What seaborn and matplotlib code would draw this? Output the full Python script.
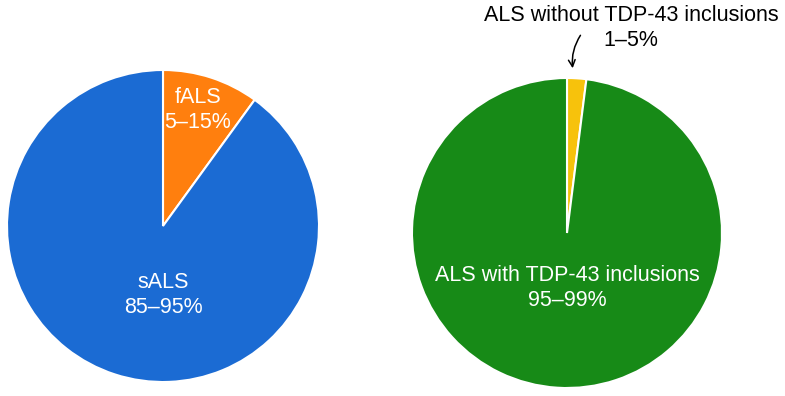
import numpy as np
import pandas as pd
import seaborn as sns
import matplotlib.pyplot as plt

# данные: семейный / спорадический БАС
als_types = ['fALS', 'sALS']
als_type_share = [10, 90]
als_type_ranges = ['5–15%', '85–95%']

# данные: включения TDP-43
tdp_groups = ['ALS without TDP-43 inclusions', 'ALS with TDP-43 inclusions']
tdp_share = [2, 98]
tdp_ranges = ['1–5%', '95–99%']

colors_left = ['#ff7f0e', '#1b6bd3']
colors_right = ['#f7c20c', '#178a17']

sns.set_theme(style='white')
plt.rcParams['font.family'] = ['Liberation Sans', 'DejaVu Sans']

W, H = 785, 396
fig = plt.figure(figsize=(W / 100, H / 100), dpi=100)
ax = fig.add_axes([0, 0, 1, 1])

wp = dict(edgecolor='white', linewidth=1.5)
ax.pie(als_type_share, colors=colors_left, startangle=90, counterclock=False,
       center=(163, H - 226), radius=156, wedgeprops=wp)
ax.pie(tdp_share, colors=colors_right, startangle=90, counterclock=False,
       center=(567, H - 233), radius=155, wedgeprops=wp)

ax.set_xlim(0, W)
ax.set_ylim(0, H)
ax.set_aspect('equal')
ax.axis('off')

fs = 15.5
txt = dict(color='white', fontsize=fs, ha='center', va='center', linespacing=1.2)
ax.text(198, H - 110, f'{als_types[0]}\n{als_type_ranges[0]}', **txt)
ax.text(163, H - 295, f'{als_types[1]}\n{als_type_ranges[1]}', **txt)
ax.text(567, H - 288, f'{tdp_groups[1]}\n{tdp_ranges[1]}', **txt)

ax.text(631, H - 28, f'{tdp_groups[0]}\n{tdp_ranges[0]}', color='black', fontsize=fs,
        ha='center', va='center', linespacing=1.2)
ax.annotate('', xy=(573, H - 71), xytext=(582, H - 33),
            arrowprops=dict(arrowstyle='->', color='black', lw=1.1,
                            connectionstyle='arc3,rad=0.2'))

fig.savefig('out.png', dpi=100, facecolor='white')
